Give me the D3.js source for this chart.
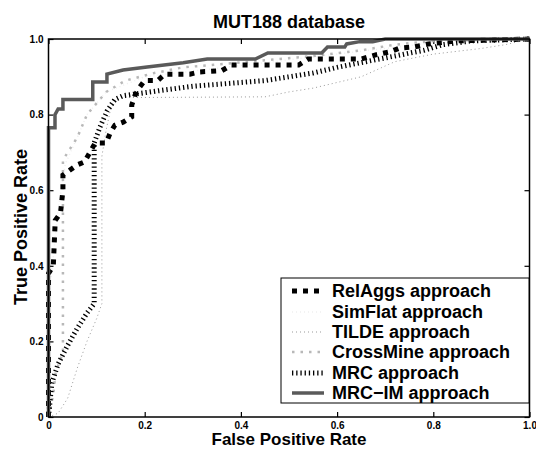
<!DOCTYPE html>
<html>
<head>
<meta charset="utf-8">
<script src="https://cdn.jsdelivr.net/npm/d3@7"></script>
<style>
  html, body { margin: 0; padding: 0; background: #fff; }
  svg { display: block; font-family: "Liberation Sans", Arial, Helvetica, sans-serif; font-weight: bold; }
</style>
</head>
<body>
<svg id="chart" width="536" height="450"></svg>
<script>
// ---- data ----
const titleText = "MUT188 database";
const xLabel = "False Positive Rate";
const yLabel = "True Positive Rate";
const tickValues = [0, 0.2, 0.4, 0.6, 0.8, 1.0];
const tickLabels = ["0", "0.2", "0.4", "0.6", "0.8", "1.0"];
const seriesNames = ["RelAggs approach", "SimFlat approach", "TILDE approach", "CrossMine approach", "MRC approach", "MRC\u2212IM approach"];

const relAggsFpr = [0, 0, 0.01, 0.014, 0.025, 0.03, 0.03, 0.06, 0.075, 0.097, 0.12, 0.128, 0.138, 0.155, 0.173, 0.173, 0.18, 0.19, 0.2, 0.227, 0.242, 0.294, 0.315, 0.36, 0.38, 0.52, 0.54, 0.65, 0.68, 0.71, 0.73, 0.76, 0.79, 0.85, 1.0];
const relAggsTpr = [0, 0.38, 0.4, 0.52, 0.54, 0.6, 0.64, 0.667, 0.675, 0.725, 0.725, 0.751, 0.772, 0.78, 0.794, 0.825, 0.852, 0.873, 0.89, 0.89, 0.907, 0.907, 0.913, 0.916, 0.931, 0.931, 0.947, 0.947, 0.958, 0.966, 0.976, 0.979, 0.987, 0.995, 1.0];

const simFlatFpr = [0, 0, 0.02, 0.035, 0.06, 0.08, 0.12, 0.2, 0.4, 0.6, 0.8, 1.0];
const simFlatTpr = [0, 0.3, 0.55, 0.67, 0.74, 0.8, 0.86, 0.9, 0.93, 0.96, 0.99, 1.0];

const tildeFpr = [0, 0.02, 0.04, 0.06, 0.08, 0.1, 0.111, 0.111, 0.12, 0.13, 0.15, 0.45, 0.5, 0.55, 0.65, 0.72, 0.8, 0.9, 0.95, 1.0];
const tildeTpr = [0, 0.01, 0.05, 0.13, 0.2, 0.26, 0.3, 0.69, 0.76, 0.82, 0.845, 0.847, 0.86, 0.87, 0.9, 0.94, 0.96, 0.975, 0.985, 1.0];

const crossMineFpr = [0, 0.01, 0.015, 0.03, 0.03, 0.06, 0.08, 0.12, 0.16, 0.22, 0.28, 0.42, 0.55, 0.65, 0.72, 0.8, 1.0];
const crossMineTpr = [0, 0.06, 0.12, 0.17, 0.68, 0.74, 0.8, 0.86, 0.89, 0.91, 0.925, 0.94, 0.955, 0.97, 0.985, 0.995, 1.0];

const mrcFpr = [0, 0.007, 0.02, 0.04, 0.06, 0.08, 0.095, 0.095, 0.107, 0.122, 0.138, 0.155, 0.24, 0.3, 0.45, 0.5, 0.55, 0.6, 0.66, 0.72, 0.78, 0.82, 0.88, 1.0];
const mrcTpr = [0, 0.09, 0.14, 0.19, 0.235, 0.275, 0.3, 0.725, 0.767, 0.81, 0.84, 0.85, 0.865, 0.875, 0.89, 0.9, 0.91, 0.925, 0.94, 0.955, 0.97, 0.985, 0.995, 1.0];

const mrcImFpr = [0, 0, 0.0135, 0.0135, 0.02, 0.03, 0.03, 0.092, 0.092, 0.1215, 0.1215, 0.155, 0.205, 0.28, 0.33, 0.43, 0.456, 0.568, 0.58, 0.616, 0.62, 0.647, 0.674, 0.7, 1.0];
const mrcImTpr = [0, 0.765, 0.765, 0.80, 0.815, 0.815, 0.84, 0.84, 0.886, 0.886, 0.907, 0.918, 0.926, 0.937, 0.947, 0.947, 0.963, 0.963, 0.979, 0.979, 0.987, 0.993, 0.993, 1.0, 1.0];

// ---- layout ----
const svg = d3.select("#chart");
const L = 48.5, R = 529.5, T = 39, B = 417;
const x = d3.scaleLinear().domain([0, 1]).range([L, R]);
const y = d3.scaleLinear().domain([0, 1]).range([B, T]);
const fmt = d => tickLabels[tickValues.indexOf(d)];

// styles
const styles = [
  { stroke: "#000", width: 5, dash: "5,6" },          // RelAggs
  { stroke: "#efefef", width: 1.5, dash: "1,3" },     // SimFlat
  { stroke: "#999", width: 1, dash: "1,3" },          // TILDE
  { stroke: "#b8b8b8", width: 2.5, dash: "2.5,6" },   // CrossMine
  { stroke: "#000", width: 5, dash: "1.3,2.9" },      // MRC
  { stroke: "#5a5a5a", width: 3.5, dash: null }       // MRC-IM
];
const series = [
  [relAggsFpr, relAggsTpr],
  [simFlatFpr, simFlatTpr],
  [tildeFpr, tildeTpr],
  [crossMineFpr, crossMineTpr],
  [mrcFpr, mrcTpr],
  [mrcImFpr, mrcImTpr]
];

// axes
const gx = svg.append("g").attr("transform", `translate(0,${B})`)
  .call(d3.axisBottom(x).tickValues(tickValues).tickFormat(fmt).tickSizeInner(-5).tickSizeOuter(0).tickPadding(5));
const gx2 = svg.append("g").attr("transform", `translate(0,${T})`)
  .call(d3.axisTop(x).tickValues(tickValues).tickFormat("").tickSizeInner(-5).tickSizeOuter(0));
const gy = svg.append("g").attr("transform", `translate(${L},0)`)
  .call(d3.axisLeft(y).tickValues(tickValues).tickFormat(fmt).tickSizeInner(-5).tickSizeOuter(0).tickPadding(5));
const gy2 = svg.append("g").attr("transform", `translate(${R},0)`)
  .call(d3.axisRight(y).tickValues(tickValues).tickFormat("").tickSizeInner(-5).tickSizeOuter(0));
[gx, gx2, gy, gy2].forEach(g => {
  g.select(".domain").remove();
  g.selectAll(".tick line").attr("stroke", "#000").attr("stroke-width", 1.2);
  g.selectAll("text").attr("font-size", 10).attr("font-weight", "bold")
    .attr("font-family", "'Liberation Sans', Arial, sans-serif").attr("fill", "#000");
});

// curves
const drawOrder = [2, 1, 3, 4, 0, 5];
const line = d3.line().x(d => x(d[0])).y(d => y(d[1]));
drawOrder.forEach(i => {
  const pts = series[i][0].map((v, k) => [v, series[i][1][k]]);
  const p = svg.append("path").datum(pts).attr("d", line)
    .attr("fill", "none").attr("stroke", styles[i].stroke)
    .attr("stroke-width", styles[i].width).attr("stroke-linejoin", "miter");
  if (styles[i].dash) p.attr("stroke-dasharray", styles[i].dash);
});

// frame
svg.append("rect").attr("x", L).attr("y", T).attr("width", R - L).attr("height", B - T)
  .attr("fill", "none").attr("stroke", "#000").attr("stroke-width", 1.5);

// title & labels
svg.append("text").attr("x", 289).attr("y", 28).attr("text-anchor", "middle")
  .attr("font-size", 18).text(titleText);
svg.append("text").attr("x", 289).attr("y", 445).attr("text-anchor", "middle")
  .attr("font-size", 17).text(xLabel);
svg.append("text").attr("transform", "translate(27,227) rotate(-90)").attr("text-anchor", "middle")
  .attr("font-size", 18).text(yLabel);

// legend
const lg = svg.append("g");
lg.append("rect").attr("x", 281).attr("y", 278).attr("width", 248).attr("height", 125)
  .attr("fill", "#fff").attr("stroke", "#000").attr("stroke-width", 1);
const baselines = [297, 318, 338, 358, 379, 399];
seriesNames.forEach((name, i) => {
  const yy = baselines[i] - 6;
  const s = lg.append("line").attr("x1", 292).attr("x2", 324).attr("y1", yy).attr("y2", yy)
    .attr("stroke", styles[i].stroke).attr("stroke-width", styles[i].width);
  if (styles[i].dash) s.attr("stroke-dasharray", styles[i].dash);
  lg.append("text").attr("x", 332).attr("y", baselines[i]).attr("font-size", 18).text(name);
});
</script>
</body>
</html>
